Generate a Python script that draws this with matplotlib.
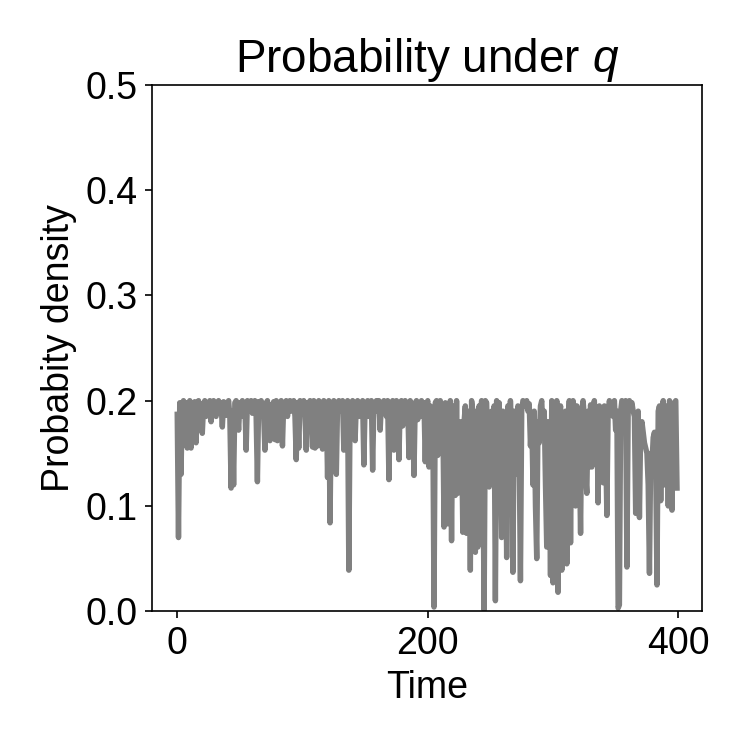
import numpy as np
import matplotlib
matplotlib.use("Agg")
import matplotlib.pyplot as plt

plt.rcParams['font.family'] = ['Liberation Sans', 'DejaVu Sans']
plt.rcParams['mathtext.fontset'] = 'custom'
plt.rcParams['mathtext.rm'] = 'Liberation Sans'
plt.rcParams['mathtext.it'] = 'Liberation Sans:italic'

# probability density under q, one value per time step
prob_q = [
    0.187, 0.070, 0.198, 0.130, 0.195, 0.200, 0.165, 0.198, 0.155, 0.190,
    0.200, 0.155, 0.196, 0.185, 0.199, 0.160, 0.192, 0.200, 0.188, 0.197,
    0.169, 0.195, 0.200, 0.185, 0.198, 0.190, 0.200, 0.180, 0.196, 0.200,
    0.192, 0.185, 0.198, 0.200, 0.190, 0.197, 0.175, 0.199, 0.190, 0.186,
    0.196, 0.200, 0.185, 0.117, 0.190, 0.120, 0.198, 0.200, 0.192, 0.172,
    0.198, 0.190, 0.200, 0.185, 0.196, 0.153, 0.200, 0.197, 0.190, 0.200,
    0.188, 0.196, 0.200, 0.185, 0.123, 0.199, 0.190, 0.200, 0.195, 0.187,
    0.153, 0.198, 0.200, 0.190, 0.162, 0.196, 0.165, 0.199, 0.163, 0.200,
    0.162, 0.195, 0.168, 0.200, 0.157, 0.198, 0.190, 0.200, 0.185, 0.197,
    0.200, 0.190, 0.196, 0.200, 0.185, 0.144, 0.198, 0.155, 0.200, 0.192,
    0.196, 0.200, 0.185, 0.153, 0.198, 0.190, 0.200, 0.195, 0.156, 0.200,
    0.155, 0.190, 0.157, 0.200, 0.158, 0.196, 0.154, 0.200, 0.190, 0.198,
    0.127, 0.200, 0.084, 0.198, 0.190, 0.200, 0.185, 0.130, 0.197, 0.200,
    0.190, 0.196, 0.200, 0.153, 0.198, 0.190, 0.200, 0.039, 0.195, 0.165,
    0.200, 0.190, 0.162, 0.198, 0.200, 0.185, 0.196, 0.190, 0.200, 0.139,
    0.198, 0.190, 0.200, 0.185, 0.196, 0.200, 0.134, 0.198, 0.190, 0.200,
    0.195, 0.200, 0.172, 0.198, 0.190, 0.200, 0.196, 0.185, 0.200, 0.125,
    0.198, 0.190, 0.200, 0.153, 0.196, 0.200, 0.190, 0.144, 0.198, 0.200,
    0.176, 0.195, 0.200, 0.190, 0.198, 0.146, 0.200, 0.192, 0.185, 0.129,
    0.198, 0.200, 0.182, 0.196, 0.190, 0.200, 0.185, 0.198, 0.142, 0.195,
    0.200, 0.137, 0.195, 0.140, 0.190, 0.004, 0.198, 0.200, 0.148, 0.196,
    0.200, 0.150, 0.190, 0.080, 0.198, 0.120, 0.083, 0.185, 0.200, 0.067,
    0.195, 0.162, 0.110, 0.200, 0.112, 0.170, 0.180, 0.169, 0.075, 0.180,
    0.195, 0.074, 0.150, 0.190, 0.039, 0.200, 0.190, 0.120, 0.056, 0.190,
    0.061, 0.195, 0.180, 0.200, 0.140, 0.001, 0.200, 0.198, 0.150, 0.118,
    0.127, 0.190, 0.150, 0.195, 0.010, 0.200, 0.130, 0.198, 0.160, 0.070,
    0.190, 0.120, 0.180, 0.051, 0.195, 0.140, 0.200, 0.170, 0.037, 0.190,
    0.180, 0.130, 0.195, 0.150, 0.029, 0.190, 0.200, 0.198, 0.195, 0.200,
    0.190, 0.197, 0.157, 0.185, 0.120, 0.190, 0.100, 0.050, 0.180, 0.160,
    0.195, 0.200, 0.170, 0.190, 0.120, 0.061, 0.180, 0.150, 0.034, 0.200,
    0.027, 0.190, 0.150, 0.200, 0.018, 0.170, 0.195, 0.039, 0.180, 0.120,
    0.190, 0.045, 0.170, 0.200, 0.065, 0.180, 0.200, 0.190, 0.100, 0.195,
    0.185, 0.150, 0.074, 0.190, 0.200, 0.185, 0.130, 0.112, 0.190, 0.137,
    0.196, 0.137, 0.190, 0.200, 0.153, 0.190, 0.103, 0.195, 0.185, 0.190,
    0.122, 0.195, 0.160, 0.091, 0.190, 0.200, 0.195, 0.190, 0.185, 0.200,
    0.172, 0.190, 0.003, 0.006, 0.190, 0.200, 0.198, 0.190, 0.200, 0.042,
    0.190, 0.200, 0.195, 0.198, 0.190, 0.185, 0.093, 0.180, 0.190, 0.089,
    0.175, 0.180, 0.170, 0.160, 0.155, 0.150, 0.120, 0.036, 0.150, 0.140,
    0.165, 0.170, 0.140, 0.025, 0.190, 0.195, 0.105, 0.190, 0.200, 0.120,
    0.195, 0.190, 0.100, 0.200, 0.195, 0.096, 0.190, 0.198, 0.200, 0.117,
]
time = np.arange(len(prob_q))
y_ticks = [0.0, 0.1, 0.2, 0.3, 0.4, 0.5]
x_ticks = [0, 200, 400]

fig = plt.figure(figsize=(5, 5), dpi=150)
ax = fig.add_axes([0.203, 0.185, 0.733, 0.702])
ax.plot(time, prob_q, color="gray", linewidth=2.6)

ax.set_ylim(0, 0.5)
ax.set_yticks(y_ticks)
ax.set_yticklabels([f"{v:.1f}" for v in y_ticks])
ax.set_xticks(x_ticks)
ax.tick_params(labelsize=18)

ax.set_title("Probability under $q$", fontsize=22)
ax.set_xlabel("Time", fontsize=18)
ax.set_ylabel("Probabity density", fontsize=18)

fig.savefig("out.png", dpi=150)
